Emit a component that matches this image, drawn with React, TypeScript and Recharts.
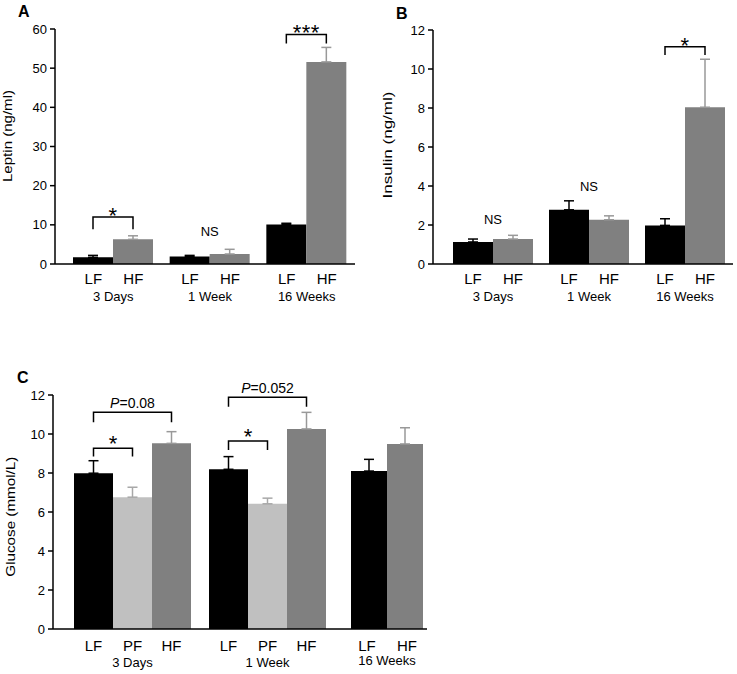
import React from 'react';
import { BarChart, Bar, XAxis, YAxis, ErrorBar, LabelList } from 'recharts';

const FONT = 'Arial, "Liberation Sans", Helvetica, sans-serif';

// ---- panel A: leptin (ng/ml) ----
const groups = ['3 Days', '1 Week', '16 Weeks'];
const leptinLF = [1.7, 1.9, 10.1];
const leptinLFSem = [0.5, 0.3, 0.3];
const leptinHF = [6.3, 2.55, 51.6];
const leptinHFSem = [0.9, 1.2, 3.7];
const leptinTicks = [0, 10, 20, 30, 40, 50, 60];
const leptinMarks = ['*', 'NS', '***'];
const leptinBracketTop = [12, null, 58.6];
const leptinBracketFoot = [8.9, null, 56.3];
const leptinNSLevel = [null, 7.25, null];

// ---- panel B: insulin (ng/ml) ----
const insulinLF = [1.13, 2.78, 1.98];
const insulinLFSem = [0.15, 0.46, 0.34];
const insulinHF = [1.28, 2.27, 8.04];
const insulinHFSem = [0.19, 0.2, 2.46];
const insulinTicks = [0, 2, 4, 6, 8, 10, 12];
const insulinMarks = ['NS', 'NS', '*'];
const insulinBracketTop = [null, null, 11.14];
const insulinBracketFoot = [null, null, 10.72];
const insulinNSLevel = [2.03, 3.72, null];

// ---- panel C: glucose (mmol/L) ----
const glucoseLF = [7.99, 8.19, 8.1];
const glucoseLFSem = [0.64, 0.65, 0.6];
const glucosePF = [6.76, 6.42]; // no pair-fed group at 16 weeks
const glucosePFSem = [0.51, 0.29];
const glucoseHF = [9.52, 10.26, 9.49];
const glucoseHFSem = [0.6, 0.85, 0.83];
const glucoseTicks = [0, 2, 4, 6, 8, 10, 12];
const glucoseStarTop = [9.27, 9.64];
const glucoseStarFoot = [8.84, 9.18];
const glucosePTop = [11.11, 11.88];
const glucosePFoot = [10.6, 11.4];
const glucosePText = ['P=0.08', 'P=0.052'];

const LF_COLOR = '#000000';
const HF_COLOR = '#808080';
const PF_COLOR = '#c0c0c0';
const HF_ERR = '#999999';
const PF_ERR = '#a8a8a8';

const leptinData = groups.map((g, i) => ({
  group: g,
  lf: leptinLF[i],
  lfErr: [0, leptinLFSem[i]],
  hf: leptinHF[i],
  hfErr: [0, leptinHFSem[i]],
}));

const insulinData = groups.map((g, i) => ({
  group: g,
  lf: insulinLF[i],
  lfErr: [0, insulinLFSem[i]],
  hf: insulinHF[i],
  hfErr: [0, insulinHFSem[i]],
}));

const glucoseData = glucosePF.map((pf, i) => ({
  group: groups[i],
  lf: glucoseLF[i],
  lfErr: [0, glucoseLFSem[i]],
  pf,
  pfErr: [0, glucosePFSem[i]],
  hf: glucoseHF[i],
  hfErr: [0, glucoseHFSem[i]],
}));

const glucoseLate = [
  {
    group: groups[2],
    lf: glucoseLF[2],
    lfErr: [0, glucoseLFSem[2]],
    hf: glucoseHF[2],
    hfErr: [0, glucoseHFSem[2]],
  },
];

const axisStyle = { stroke: '#000', strokeWidth: 1.5 };
const yTick = { fontSize: 13, fill: '#000', fontFamily: FONT };

const GroupTick = (props: any) => {
  const { x, y, payload, bars, barSize, dyBar, dyGroup } = props;
  const n = bars.length;
  return (
    <g>
      {bars.map((b: string, i: number) => (
        <text
          key={b}
          x={x + (i - (n - 1) / 2) * barSize}
          y={y + dyBar}
          textAnchor="middle"
          fontSize={15}
          fontFamily={FONT}
          fill="#000"
        >
          {b}
        </text>
      ))}
      <text x={x} y={y + dyGroup} textAnchor="middle" fontSize={13} fontFamily={FONT} fill="#000">
        {payload.value}
      </text>
    </g>
  );
};

const YLabel = (props: any) => {
  const { text, cx, cy, len } = props;
  const bx = cx + 3.4;
  return (
    <text
      x={bx}
      y={cy}
      transform={`rotate(-90, ${bx}, ${cy})`}
      textAnchor="middle"
      fontSize={13}
      fontFamily={FONT}
      fill="#000"
      textLength={len}
      lengthAdjust="spacingAndGlyphs"
    >
      {text}
    </text>
  );
};

// brackets and significance marks, drawn from the LF bar geometry of each group
const bracketPath = (x1: number, x2: number, yTop: number, yFoot: number) =>
  `M${x1},${yFoot} V${yTop} H${x2} V${yFoot}`;

const barGeom = (p: any, values: number[]) => {
  const vb = p.viewBox && p.viewBox.width != null ? p.viewBox : p;
  const i = Number(p.index);
  const x = Number(vb.x);
  const w = Number(vb.width);
  const top = Number(vb.y);
  const h = Number(vb.height);
  const base = top + h;
  const ppu = h / values[i];
  return { i, x, w, py: (v: number) => base - v * ppu };
};

const pairAnnot = (
  values: number[],
  marks: string[],
  tops: (number | null)[],
  foots: (number | null)[],
  nsLevel: (number | null)[],
  starDy: number,
) => (p: any) => {
  const { i, x, w, py } = barGeom(p, values);
  if (!Number.isFinite(i)) return null;
  const top = tops[i];
  const foot = foots[i];
  if (top == null || foot == null) {
    const lv = nsLevel[i];
    if (lv == null) return null;
    return (
      <text x={x + w} y={py(lv)} textAnchor="middle" fontSize={13} fontFamily={FONT} fill="#000">
        {marks[i]}
      </text>
    );
  }
  const x1 = x + w / 2;
  const x2 = x + 1.5 * w;
  return (
    <g>
      <path d={bracketPath(x1, x2, py(top), py(foot))} stroke="#000" strokeWidth={1.5} fill="none" />
      <text
        x={(x1 + x2) / 2}
        y={py(top) + starDy}
        textAnchor="middle"
        fontSize={22}
        fontFamily={FONT}
        letterSpacing={0.5}
        fill="#000"
      >
        {marks[i]}
      </text>
    </g>
  );
};

const glucoseAnnot = (p: any) => {
  const { i, x, w, py } = barGeom(p, glucoseLF);
  if (!Number.isFinite(i) || i > 1) return null;
  const xl = x + w / 2;
  const xp = x + 1.5 * w;
  const xh = x + 2.5 * w;
  const pText = glucosePText[i].replace(/^P/, '');
  return (
    <g>
      <path
        d={bracketPath(xl, xp, py(glucoseStarTop[i]), py(glucoseStarFoot[i]))}
        stroke="#000"
        strokeWidth={1.5}
        fill="none"
      />
      <text x={(xl + xp) / 2} y={py(glucoseStarTop[i]) + 2.8} textAnchor="middle" fontSize={22} fontFamily={FONT} fill="#000">
        *
      </text>
      <path
        d={bracketPath(xl, xh, py(glucosePTop[i]), py(glucosePFoot[i]))}
        stroke="#000"
        strokeWidth={1.5}
        fill="none"
      />
      <text x={(xl + xh) / 2} y={py(glucosePTop[i]) - 4} textAnchor="middle" fontSize={14} fontFamily={FONT} fill="#000">
        <tspan fontStyle="italic">P</tspan>
        {pText}
      </text>
    </g>
  );
};

const leptinAnnot = pairAnnot(leptinLF, leptinMarks, leptinBracketTop, leptinBracketFoot, leptinNSLevel, 6);
const insulinAnnot = pairAnnot(insulinLF, insulinMarks, insulinBracketTop, insulinBracketFoot, insulinNSLevel, 6.2);

export default function App() {
  return (
    <div style={{ position: 'absolute', left: 0, top: 0, width: 737, height: 674, background: '#fff', fontFamily: FONT }}>
      {/* A */}
      <div style={{ position: 'absolute', left: 0, top: 0 }}>
        <BarChart
          width={370}
          height={305}
          data={leptinData}
          margin={{ top: 29, right: 15, left: 10, bottom: 0 }}
          barGap={0}
        >
          <XAxis
            dataKey="group"
            height={41}
            interval={0}
            padding={{ left: 10, right: 0 }}
            axisLine={axisStyle}
            tickLine={false}
            tickSize={0}
            tickMargin={0}
            tick={<GroupTick bars={['LF', 'HF']} barSize={40} dyBar={20} dyGroup={36.5} />}
          />
          <YAxis
            width={45}
            domain={[0, 60]}
            ticks={leptinTicks}
            interval={0}
            axisLine={axisStyle}
            tickLine={axisStyle}
            tickSize={5}
            tickMargin={3}
            tick={yTick}
            label={<YLabel text="Leptin (ng/ml)" cx={8.3} cy={136} len={92} />}
          />
          <Bar dataKey="lf" fill={LF_COLOR} barSize={40} isAnimationActive={false}>
            <ErrorBar dataKey="lfErr" width={5} stroke="#000" strokeWidth={1.5} isAnimationActive={false} />
            <LabelList dataKey="lf" content={leptinAnnot} />
          </Bar>
          <Bar dataKey="hf" fill={HF_COLOR} barSize={40} isAnimationActive={false}>
            <ErrorBar dataKey="hfErr" width={5} stroke={HF_ERR} strokeWidth={1.5} isAnimationActive={false} />
          </Bar>
        </BarChart>
      </div>

      {/* B */}
      <div style={{ position: 'absolute', left: 370, top: 0 }}>
        <BarChart
          width={367}
          height={305}
          data={insulinData}
          margin={{ top: 30, right: 4, left: 15, bottom: 0 }}
          barGap={0}
        >
          <XAxis
            dataKey="group"
            height={41}
            interval={0}
            padding={{ left: 12, right: 0 }}
            axisLine={axisStyle}
            tickLine={false}
            tickSize={0}
            tickMargin={0}
            tick={<GroupTick bars={['LF', 'HF']} barSize={40} dyBar={19.5} dyGroup={36.5} />}
          />
          <YAxis
            width={48}
            domain={[0, 12]}
            ticks={insulinTicks}
            interval={0}
            axisLine={axisStyle}
            tickLine={axisStyle}
            tickSize={5}
            tickMargin={3}
            tick={yTick}
            label={<YLabel text="Insulin (ng/ml)" cx={18.3} cy={145} len={107} />}
          />
          <Bar dataKey="lf" fill={LF_COLOR} barSize={40} isAnimationActive={false}>
            <ErrorBar dataKey="lfErr" width={5} stroke="#000" strokeWidth={1.5} isAnimationActive={false} />
            <LabelList dataKey="lf" content={insulinAnnot} />
          </Bar>
          <Bar dataKey="hf" fill={HF_COLOR} barSize={40} isAnimationActive={false}>
            <ErrorBar dataKey="hfErr" width={5} stroke={HF_ERR} strokeWidth={1.5} isAnimationActive={false} />
          </Bar>
        </BarChart>
      </div>

      {/* C: 3 Days and 1 Week (LF / PF / HF) */}
      <div style={{ position: 'absolute', left: 0, top: 360 }}>
        <BarChart
          width={335}
          height={310}
          data={glucoseData}
          margin={{ top: 35, right: 0, left: 10, bottom: 0 }}
          barGap={0}
        >
          <XAxis
            dataKey="group"
            height={41}
            interval={0}
            padding={{ left: 12, right: 0 }}
            axisLine={axisStyle}
            tickLine={false}
            tickSize={0}
            tickMargin={0}
            tick={<GroupTick bars={['LF', 'PF', 'HF']} barSize={39} dyBar={22} dyGroup={38} />}
          />
          <YAxis
            width={43}
            domain={[0, 12]}
            ticks={glucoseTicks}
            interval={0}
            axisLine={axisStyle}
            tickLine={axisStyle}
            tickSize={5}
            tickMargin={3}
            tick={yTick}
            label={<YLabel text="Glucose (mmol/L)" cx={12} cy={156.7} len={120} />}
          />
          <Bar dataKey="lf" fill={LF_COLOR} barSize={39} isAnimationActive={false}>
            <ErrorBar dataKey="lfErr" width={5} stroke="#000" strokeWidth={1.5} isAnimationActive={false} />
            <LabelList dataKey="lf" content={glucoseAnnot} />
          </Bar>
          <Bar dataKey="pf" fill={PF_COLOR} barSize={39} isAnimationActive={false}>
            <ErrorBar dataKey="pfErr" width={5} stroke={PF_ERR} strokeWidth={1.5} isAnimationActive={false} />
          </Bar>
          <Bar dataKey="hf" fill={HF_COLOR} barSize={39} isAnimationActive={false}>
            <ErrorBar dataKey="hfErr" width={5} stroke={HF_ERR} strokeWidth={1.5} isAnimationActive={false} />
          </Bar>
        </BarChart>
      </div>

      {/* C: 16 Weeks (LF / HF only) continues the same axis */}
      <div style={{ position: 'absolute', left: 335, top: 360 }}>
        <BarChart
          width={102}
          height={310}
          data={glucoseLate}
          margin={{ top: 35, right: 10, left: 0, bottom: 0 }}
          barGap={0}
        >
          <XAxis
            dataKey="group"
            height={41}
            interval={0}
            padding={{ left: 12, right: 0 }}
            axisLine={axisStyle}
            tickLine={false}
            tickSize={0}
            tickMargin={0}
            tick={<GroupTick bars={['LF', 'HF']} barSize={40} dyBar={22} dyGroup={36} />}
          />
          <YAxis hide domain={[0, 12]} ticks={glucoseTicks} />
          <Bar dataKey="lf" fill={LF_COLOR} barSize={40} isAnimationActive={false}>
            <ErrorBar dataKey="lfErr" width={5} stroke="#000" strokeWidth={1.5} isAnimationActive={false} />
          </Bar>
          <Bar dataKey="hf" fill={HF_COLOR} barSize={40} isAnimationActive={false}>
            <ErrorBar dataKey="hfErr" width={5} stroke={HF_ERR} strokeWidth={1.5} isAnimationActive={false} />
          </Bar>
        </BarChart>
      </div>

      {/* panel letters */}
      <svg width={737} height={674} style={{ position: 'absolute', left: 0, top: 0, pointerEvents: 'none' }}>
        <text x={18} y={16.5} fontSize={16} fontWeight="bold" fontFamily={FONT}>A</text>
        <text x={396} y={18.5} fontSize={16} fontWeight="bold" fontFamily={FONT}>B</text>
        <text x={17} y={383} fontSize={16} fontWeight="bold" fontFamily={FONT}>C</text>
      </svg>
    </div>
  );
}
